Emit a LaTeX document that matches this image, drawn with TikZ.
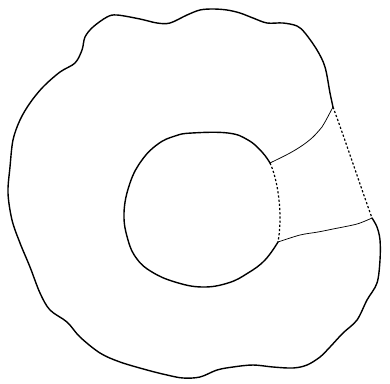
\documentclass[tikz,border=0pt]{standalone}
\begin{document}
\begin{tikzpicture}[x=1pt,y=-1pt,
  rim/.style={line width=1.4pt,line join=round,line cap=round},
  seam/.style={line width=1.2pt,dash pattern=on 2.2pt off 2pt},
  cut/.style={line width=0.75pt,line join=round}]
\useasboundingbox (0,0) rectangle (390,383);
% junction points
\coordinate (OT) at (333,107);
\coordinate (OB) at (372,218);
\coordinate (IT) at (270,163);
\coordinate (IB) at (278,242);
% outer wavy boundary
\draw[rim] plot[smooth,tension=0.55] coordinates {
  (OT) (330,93) (325,67) (317,50) (305,33) (297,26) (283,23) (267,23)
  (253,18) (240,13) (227,10) (213,9) (200,10) (187,15) (170,23) (157,23)
  (140,19) (117,15) (107,17) (93,27) (85,37) (82,50) (75,63) (60,72)
  (43,87) (30,103) (20,120) (13,140) (10,167) (8,193) (12,220) (20,243)
  (30,267) (40,293) (50,310) (67,322) (80,337) (100,353) (120,362)
  (147,370) (167,375) (183,378) (200,377) (217,370) (233,367) (253,365)
  (273,367) (293,368) (307,365) (320,357) (330,347) (343,333) (357,320)
  (367,300) (377,283) (380,260) (380,240) (377,227) (OB)};
\draw[seam] (OT) .. controls (347,145) and (360,185) .. (OB);
% inner boundary
\draw[rim] plot[smooth,tension=0.7] coordinates {
  (IT) (262,152) (248,140) (228,133) (192,133) (175,136) (158,144)
  (142,160) (130,183) (124,213) (128,240) (137,259) (152,272)
  (175,282) (202,287) (228,283) (248,273) (265,260) (IB)};
\draw[seam] (IT) .. controls (278,180) and (283,215) .. (IB);
% cuts joining inner and outer boundaries
\draw[cut] plot[smooth,tension=0.5] coordinates {
  (IT) (290,153) (303,145) (313,137) (322,127) (325,122) (OT)};
\draw[cut] plot[smooth,tension=0.5] coordinates {
  (IB) (300,235) (318,232) (333,229) (357,224) (OB)};
\end{tikzpicture}
\end{document}
